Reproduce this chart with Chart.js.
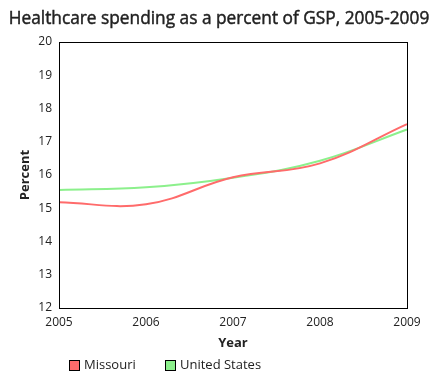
<!DOCTYPE html>
<html>
<head>
<meta charset="utf-8">
<script src="https://cdn.jsdelivr.net/npm/chart.js@4/dist/chart.umd.min.js"></script>
<style>
html,body{margin:0;padding:0;background:#fff;}
#wrap{width:440px;height:390px;position:relative;}
</style>
</head>
<body>
<div id="wrap"><canvas id="c" width="440" height="390"></canvas></div>
<script>
const titleText = 'Healthcare spending as a percent of GSP, 2005-2009';
const years = ['2005', '2006', '2007', '2008', '2009'];
const missouri = [15.18, 15.12, 15.93, 16.35, 17.53];
const unitedStates = [15.55, 15.63, 15.92, 16.43, 17.37];
const seriesNames = ['Missouri', 'United States'];
const yTicks = [12, 13, 14, 15, 16, 17, 18, 19, 20];

const FONT = "'Open Sans', 'Noto Sans', sans-serif";
const RED = '#ff6b6b';
const GREEN = '#8cf08c';

const framePlugin = {
  id: 'frame',
  afterDatasetsDraw(chart) {
    const {ctx, chartArea: a} = chart;
    ctx.save();
    ctx.strokeStyle = '#000';
    ctx.lineWidth = 1;
    ctx.strokeRect(a.left + 0.5, a.top + 0.5, a.right - a.left, a.bottom - a.top);
    ctx.restore();
  }
};

const titlePlugin = {
  id: 'customTitle',
  afterDraw(chart) {
    const {ctx} = chart;
    ctx.save();
    ctx.font = '17.3px ' + FONT;
    ctx.fillStyle = '#222';
    ctx.strokeStyle = '#222';
    ctx.lineWidth = 0.45;
    ctx.textAlign = 'center';
    ctx.textBaseline = 'alphabetic';
    ctx.fillText(titleText, 219, 24);
    ctx.strokeText(titleText, 219, 24);
    ctx.restore();
  }
};

const legendPlugin = {
  id: 'customLegend',
  afterDraw(chart) {
    const {ctx} = chart;
    const xs = [69, 165];
    const y = 360;
    ctx.save();
    ctx.font = '13px ' + FONT;
    ctx.textBaseline = 'middle';
    ctx.textAlign = 'left';
    chart.data.datasets.forEach((ds, i) => {
      ctx.fillStyle = ds.borderColor;
      ctx.fillRect(xs[i], y, 10, 10);
      ctx.strokeStyle = '#000';
      ctx.lineWidth = 1;
      ctx.strokeRect(xs[i] + 0.5, y + 0.5, 10, 10);
      ctx.fillStyle = '#222';
      ctx.fillText(ds.label, xs[i] + 15, y + 5.5);
    });
    ctx.restore();
  }
};

new Chart(document.getElementById('c'), {
  type: 'line',
  data: {
    labels: years,
    datasets: [
      {label: seriesNames[0], data: missouri, borderColor: RED, backgroundColor: RED, borderWidth: 2, pointRadius: 0, tension: 0.4, fill: false},
      {label: seriesNames[1], data: unitedStates, borderColor: GREEN, backgroundColor: GREEN, borderWidth: 2, pointRadius: 0, tension: 0.4, fill: false}
    ]
  },
  options: {
    responsive: false,
    animation: false,
    events: [],
    layout: {padding: {left: 0, right: 33, top: 42, bottom: 35}},
    plugins: {
      legend: {display: false},
      tooltip: {enabled: false},
      title: {display: false}
    },
    scales: {
      x: {
        type: 'category',
        offset: false,
        grid: {display: false, drawTicks: false},
        border: {display: false},
        ticks: {color: '#222', font: {family: FONT, size: 12}, padding: 7, maxRotation: 0, autoSkip: false},
        title: {display: true, text: 'Year', color: '#222', font: {family: FONT, size: 13, weight: 'bold'}, padding: {top: 0, bottom: 4}},
        afterFit(s) { s.height = 47; }
      },
      y: {
        min: 12,
        max: 20,
        grid: {display: false, drawTicks: false},
        border: {display: false},
        afterBuildTicks(s) { s.ticks = yTicks.map(v => ({value: v})); },
        ticks: {color: '#222', font: {family: FONT, size: 12}, padding: 7},
        title: {display: true, text: 'Percent', color: '#222', font: {family: FONT, size: 13, weight: 'bold'}, padding: {top: 17, bottom: 0}},
        afterFit(s) { s.width = 59; }
      }
    }
  },
  plugins: [framePlugin, titlePlugin, legendPlugin]
});
</script>
</body>
</html>
